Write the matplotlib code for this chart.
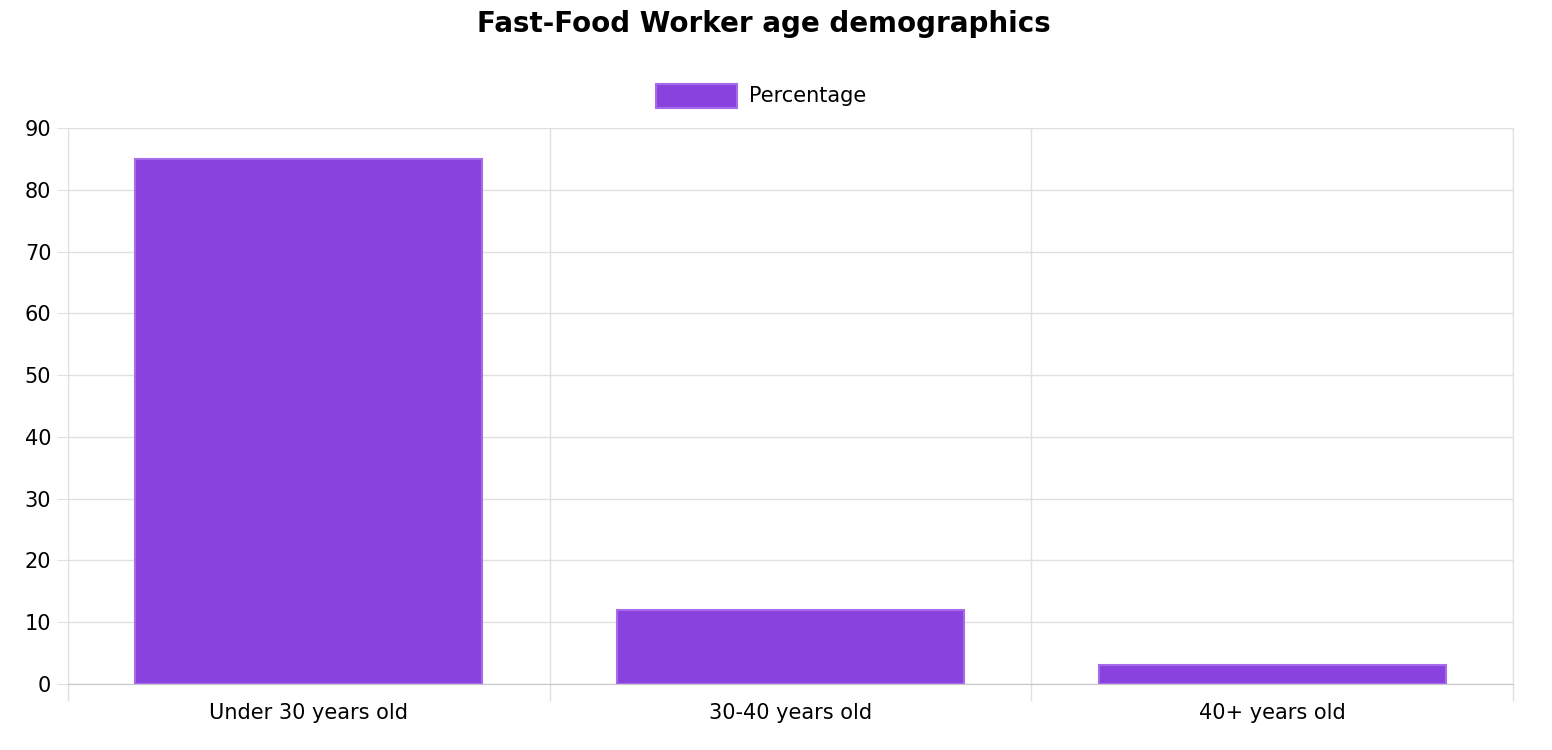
import matplotlib
matplotlib.use('Agg')
import matplotlib.pyplot as plt
from matplotlib.patches import Rectangle

categories = ['Under 30 years old', '30-40 years old', '40+ years old']
percentages = [85, 12, 3]
y_ticks = [0, 10, 20, 30, 40, 50, 60, 70, 80, 90]

bar_color = '#8A42DE'
edge_color = '#A56BEA'
grid_color = '#E0E0E0'

fig = plt.figure(figsize=(15.52, 7.5), dpi=100)
ax = fig.add_axes([68 / 1552, 1 - 684 / 750, (1513 - 68) / 1552, (684 - 128) / 750])

positions = [i + 0.5 for i in range(len(categories))]
ax.bar(positions, percentages, width=0.72, color=bar_color, edgecolor=edge_color, linewidth=1.5, zorder=3)

ax.set_xlim(0, len(categories))
ax.set_ylim(0, 90)
ax.set_yticks(y_ticks)
ax.set_xticks(positions)
ax.set_xticklabels(categories)
ax.set_xticks(range(len(categories) + 1), minor=True)
ax.tick_params(axis='x', which='major', length=0, pad=14, labelsize=15)
ax.tick_params(axis='x', which='minor', length=12, color=grid_color, width=1)
ax.tick_params(axis='y', length=8, color=grid_color, labelsize=15, pad=4)
ax.grid(True, axis='y', color=grid_color, linewidth=1, zorder=0)
ax.grid(True, axis='x', which='minor', color=grid_color, linewidth=1, zorder=0)
for s in ax.spines.values():
    s.set_color(grid_color)
ax.spines['bottom'].set_color('#C8C8C8')

fig.text(0.492, 1 - 24 / 750, 'Fast-Food Worker age demographics', ha='center', va='center',
         fontsize=20, fontweight='bold')
fig.patches.append(Rectangle((656 / 1552, 1 - 108 / 750), 81 / 1552, 24 / 750,
                             transform=fig.transFigure, facecolor=bar_color,
                             edgecolor=edge_color, linewidth=1.5))
fig.text(749 / 1552, 1 - 96 / 750, 'Percentage', ha='left', va='center', fontsize=15)

fig.savefig('out.png', dpi=100)
